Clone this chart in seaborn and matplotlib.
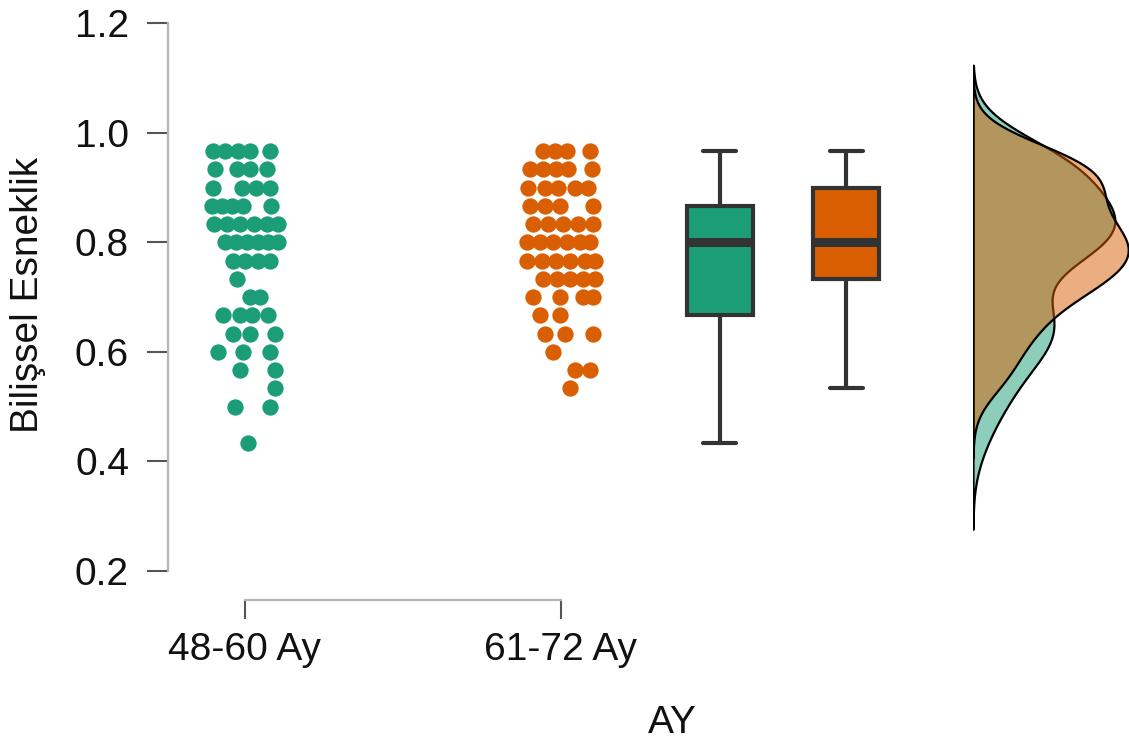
import numpy as np
import pandas as pd
import matplotlib
matplotlib.use("Agg")
import matplotlib.pyplot as plt
import seaborn as sns

# ---------------- data ----------------
groups = ["48-60 Ay", "61-72 Ay"]
x_title = "AY"
y_title = "Bilişsel Esneklik"
y_ticks = [0.2, 0.4, 0.6, 0.8, 1.0, 1.2]
y_tick_labels = ["0.2", "0.4", "0.6", "0.8", "1.0", "1.2"]

# value level (in 1/30 steps) and count of children at that level
green_levels = [29, 28, 27, 26, 25, 24, 23, 22, 21, 20, 19, 18, 17, 16, 15, 13]
green_counts = [5, 4, 4, 5, 6, 6, 4, 1, 2, 4, 3, 3, 2, 1, 2, 1]
orange_levels = [29, 28, 27, 26, 25, 24, 23, 22, 21, 20, 19, 18, 17, 16]
orange_counts = [4, 5, 5, 4, 5, 6, 6, 5, 4, 2, 3, 1, 2, 1]

green_values = np.repeat(np.array(green_levels) / 30.0, green_counts)
orange_values = np.repeat(np.array(orange_levels) / 30.0, orange_counts)

# horizontal jitter of each point as seen in the picture (pixels from group centre)
green_jitter_px = [
    -32, -20, -7, 5, 25,
    -30, -8, 5, 22,
    -32, -3, 11, 25,
    -33, -23, -13, -2, 26,
    -31, -18, -5, 9, 22, 33,
    -20, -9, 2, 13, 23, 33,
    -12, 0, 13, 25,
    -8,
    5, 15,
    -22, -5, 7, 23,
    -12, 5, 30,
    -27, -2, 25,
    -5, 30,
    30,
    -10, 25,
    3,
]
orange_jitter_px = [
    -18, -6, 6, 29,
    -31, -18, -5, 7, 31,
    -33, -16, -3, 14, 27,
    -31, -16, -1, 32,
    -28, -13, 2, 17, 32,
    -34, -21, -8, 6, 19, 29,
    -34, -19, -5, 9, 24, 34,
    -18, -4, 9, 22, 34,
    -28, -1, 22, 32,
    -21, -1,
    -16, 4, 32,
    -8,
    14, 29,
    9,
]

# ---------------- style / layout ----------------
W, H = 1129, 745
PX_PER_UNIT = 316.0
colors = {"48-60 Ay": "#1B9E77", "61-72 Ay": "#D95F02"}
box_pos = {"48-60 Ay": 1.503, "61-72 Ay": 1.902}

sns.set_theme(style="white")
plt.rcParams["font.family"] = ["Liberation Sans", "DejaVu Sans"]

fig = plt.figure(figsize=(W / 100, H / 100), dpi=100)
ax = fig.add_axes([168 / W, 145 / H, (960 - 168) / W, 585 / H])
ax2 = fig.add_axes([973 / W, 145 / H, (W - 973) / W, 585 / H])

# points (raincloud "rain")
for i, (g, vals, jit) in enumerate([
    (groups[0], green_values, green_jitter_px),
    (groups[1], orange_values, orange_jitter_px),
]):
    xs = i + np.array(jit) / PX_PER_UNIT
    sns.scatterplot(x=xs, y=vals, color=colors[g], s=138, linewidth=0,
                    ax=ax, legend=False, zorder=3)

# boxplots
df_box = pd.DataFrame({
    "value": np.r_[green_values, orange_values],
    "group": [groups[0]] * len(green_values) + [groups[1]] * len(orange_values),
})
df_box["pos"] = df_box["group"].map(box_pos)
sns.boxplot(data=df_box, x="pos", y="value", hue="group", palette=colors,
            native_scale=True, dodge=False, width=0.524, saturation=1,
            fliersize=0, linecolor="#333333", linewidth=3.0,
            medianprops=dict(linewidth=6.5, color="#333333"),
            legend=False, ax=ax)

# densities (cloud)
for g, vals in [(groups[0], green_values), (groups[1], orange_values)]:
    sns.kdeplot(y=vals, ax=ax2, fill=True, color=colors[g], alpha=0.5,
                edgecolor="black", linewidth=1.6, bw_adjust=0.82, cut=3)

# axes formatting
ylim = (0.147, 1.2155)
ax.set_ylim(*ylim)
ax2.set_ylim(*ylim)
ax.set_xlim((168 - 245) / PX_PER_UNIT, (960 - 245) / PX_PER_UNIT)
ax2.set_xlim(0, ax2.dataLim.x1 * 1.005)
ax2.axis("off")

for s in ["top", "right"]:
    ax.spines[s].set_visible(False)
for s in ["left", "bottom"]:
    ax.spines[s].set_color("#B5B5B5")
    ax.spines[s].set_linewidth(1.6)
ax.spines["left"].set_bounds(0.2, 1.2)
ax.spines["bottom"].set_bounds(0, 1)

ax.set_yticks(y_ticks)
ax.set_yticklabels(y_tick_labels)
ax.set_xticks([0, 1])
ax.set_xticklabels(groups)
ax.tick_params(axis="y", direction="out", length=15, width=1.5, color="#555555",
               pad=13, labelsize=28, labelcolor="#111111", left=True)
ax.tick_params(axis="x", direction="out", length=14, width=1.5, color="#555555",
               pad=9, labelsize=28, labelcolor="#111111", bottom=True)
ax.set_xlabel("")
ax.set_ylabel("")
ax.grid(False)

fig.text(672 / W, 1 - 723 / H, x_title, ha="center", va="center",
         fontsize=28, color="#111111")
fig.text(28 / W, 1 - 295 / H, y_title, ha="center", va="center",
         rotation=90, fontsize=28, color="#111111")

fig.savefig("out.png", dpi=100)
